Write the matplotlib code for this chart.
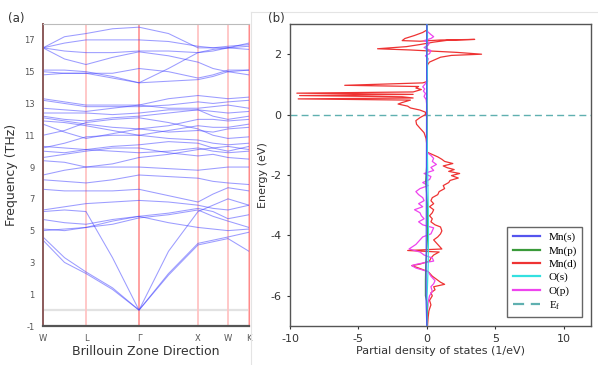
import matplotlib
matplotlib.use("Agg")
import matplotlib.pyplot as plt
from matplotlib.lines import Line2D

plt.rcParams["axes.unicode_minus"] = False

# ---------------- Panel (a): phonon dispersion ----------------
k_labels = ["W", "L", "Γ", "X", "W", "K"]
k_ticks = [0, 43, 96, 155, 185, 206]
# sample points along path: W, W-L, L, L-Γ, Γ, Γ-X, X, X-W, W, K
k_path = [0, 21.5, 43, 69.5, 96, 125.5, 155, 170, 185, 206]

bands = [
    [4.6, 3.3, 2.4, 1.4, 0.0, 2.3, 4.2, 4.4, 4.6, 4.9],
    [4.4, 3.0, 2.3, 1.3, 0.0, 2.2, 4.1, 4.3, 4.5, 3.7],
    [6.2, 6.3, 6.2, 3.3, 0.0, 3.7, 6.2, 6.6, 7.0, 6.6],
    [5.0, 5.1, 5.2, 5.6, 5.9, 5.5, 5.2, 5.1, 5.0, 5.1],
    [5.1, 5.0, 5.2, 5.4, 5.8, 6.0, 6.3, 5.9, 5.6, 5.2],
    [5.7, 5.5, 5.4, 5.7, 5.9, 6.1, 6.4, 6.2, 5.75, 6.0],
    [6.3, 6.5, 6.7, 6.8, 6.9, 6.8, 6.6, 6.4, 6.3, 6.6],
    [7.6, 7.5, 7.5, 7.5, 7.6, 7.2, 6.8, 7.3, 7.7, 7.5],
    [8.2, 8.1, 8.0, 8.2, 8.5, 8.4, 8.3, 8.1, 8.0, 7.9],
    [8.5, 8.8, 9.0, 9.0, 9.0, 8.9, 8.8, 8.9, 9.0, 9.0],
    [9.4, 9.3, 9.0, 9.2, 9.6, 9.8, 10.1, 10.2, 10.3, 10.1],
    [9.6, 9.8, 10.0, 10.2, 10.2, 9.9, 9.7, 9.8, 9.6, 9.5],
    [10.0, 9.9, 10.1, 10.0, 9.9, 10.0, 10.2, 10.0, 9.9, 10.0],
    [10.3, 10.2, 10.1, 10.3, 10.4, 10.6, 10.5, 10.2, 10.0, 10.3],
    [10.2, 10.5, 10.9, 11.0, 11.0, 10.8, 10.7, 10.5, 10.4, 10.5],
    [11.0, 11.3, 11.8, 12.0, 12.1, 11.8, 11.4, 11.0, 10.8, 10.9],
    [11.7, 11.2, 10.8, 11.1, 11.4, 11.2, 11.3, 11.2, 11.4, 11.5],
    [11.9, 11.8, 11.6, 11.3, 11.0, 11.3, 11.6, 11.5, 11.5, 11.7],
    [12.1, 11.9, 11.7, 11.5, 11.4, 11.6, 12.0, 12.0, 11.9, 12.0],
    [12.2, 12.0, 11.9, 12.1, 12.2, 12.4, 12.6, 12.2, 12.0, 12.2],
    [12.4, 12.4, 12.4, 12.3, 12.4, 12.6, 12.6, 12.5, 12.4, 12.5],
    [12.7, 12.6, 12.5, 12.7, 12.9, 12.7, 12.7, 12.8, 12.9, 12.7],
    [13.2, 13.0, 12.8, 12.8, 12.8, 12.9, 13.1, 13.0, 13.1, 13.2],
    [13.3, 13.1, 12.9, 12.9, 12.9, 13.3, 13.5, 13.4, 13.3, 13.4],
    [14.8, 14.9, 14.9, 14.6, 14.3, 15.2, 16.2, 16.4, 16.5, 16.6],
    [15.1, 15.1, 15.0, 14.7, 14.3, 14.4, 14.5, 14.7, 15.0, 14.8],
    [15.0, 14.9, 14.9, 14.9, 15.2, 15.0, 14.6, 14.8, 15.1, 15.1],
    [16.5, 15.8, 15.45, 15.9, 16.25, 16.0, 15.6, 15.2, 15.0, 15.1],
    [16.5, 16.3, 16.2, 16.2, 16.3, 16.3, 16.2, 16.3, 16.5, 16.8],
    [16.5, 16.8, 17.0, 17.0, 17.0, 16.9, 16.6, 16.5, 16.5, 16.4],
    [16.5, 17.2, 17.4, 17.7, 17.8, 17.4, 16.5, 16.5, 16.6, 16.7],
]
freq_ticks = [-1, 1, 3, 5, 7, 9, 11, 13, 15, 17]

# ---------------- Panel (b): partial DOS ----------------
mnd_E = [2.95, 2.80, 2.72, 2.62, 2.52, 2.45, 2.43, 2.47, 2.49, 2.46, 2.40, 2.32, 2.25, 2.18, 2.14,
         2.10, 2.06, 2.00, 1.96, 1.90, 1.82, 1.74, 1.65, 1.40, 1.10, 1.05, 0.97, 0.93, 0.88, 0.83,
         0.75, 0.71, 0.67, 0.63, 0.59, 0.55, 0.52, 0.48, 0.40, 0.35, 0.28, 0.22, 0.15, 0.08, 0.0,
         -0.10, -0.20, -0.32, -0.45, -0.60, -0.80, -1.0, -1.25, -1.32, -1.40, -1.48, -1.55, -1.62,
         -1.70, -1.76, -1.82, -1.88, -1.95, -2.02, -2.10, -2.18, -2.25, -2.35, -2.45, -2.55, -2.65,
         -2.75, -2.85, -2.95, -3.05, -3.15, -3.25, -3.35, -3.45, -3.55, -3.65, -3.72, -3.85, -3.95,
         -4.05, -4.15, -4.25, -4.35, -4.45, -4.50, -4.55, -4.65, -4.75, -4.85, -4.95, -5.00, -5.08,
         -5.2, -5.35, -5.45, -5.55, -5.62, -5.70, -5.80, -5.90, -6.0, -6.15, -6.3, -6.5, -6.7, -7.0]
mnd_dos = [0.0, 0.0, -0.3, -0.9, -1.6, -1.8, -0.5, 1.0, 3.5, 1.5, 0.5, -0.5, -1.5, -3.6, -1.2,
           0.5, 2.2, 4.0, 1.8, 1.0, 0.6, 0.2, 0.05, 0.0, 0.05, -0.3, -6.0, -0.6, -0.8, -0.4,
           -1.0, -9.5, -1.0, -9.3, -1.8, -1.0, -9.4, -1.2, -1.8, -2.1, -1.4, -1.2, -0.5, -0.1, -0.1,
           -0.5, -0.8, -0.75, -0.5, -0.2, -0.05, 0.0, 0.05, 0.4, 0.8, 1.1, 1.3, 1.9,
           1.2, 1.5, 2.0, 1.6, 2.4, 1.8, 2.3, 1.7, 1.6, 1.2, 1.3, 0.9, 0.8,
           0.4, 0.3, 0.5, 0.2, 0.5, 0.4, 0.2, 0.4, 0.3, 0.6, 1.0, 1.1, 1.0,
           0.8, 0.5, 0.7, 0.9, 1.1, -1.4, 0.9, 0.5, 0.3, 0.2, -0.5, -1.1, -0.6,
           0.1, 0.4, 0.7, 1.0, 1.3, 0.5, 0.6, 0.3, 0.4, 0.2, 0.3, 0.15, 0.1, 0.05]

op_E = [2.95, 2.75, 2.65, 2.58, 2.52, 2.45, 2.38, 2.30, 2.22, 2.12, 2.02, 1.95, 1.85, 1.7, 1.1,
        1.0, 0.92, 0.85, 0.78, 0.70, 0.60, 0.5, 0.3, -1.25, -1.35, -1.45, -1.55, -1.65, -1.75,
        -1.85, -1.95, -2.05, -2.15, -2.25, -2.35, -2.45, -2.55, -2.65, -2.75, -2.85, -2.95, -3.05,
        -3.15, -3.25, -3.35, -3.45, -3.55, -3.65, -3.75, -3.85, -3.95, -4.05, -4.15, -4.3, -4.45,
        -4.55, -4.65, -4.75, -4.85, -4.95, -5.0, -5.08, -5.2, -5.35, -5.5, -5.6, -5.7, -5.85, -6.0,
        -6.2, -6.5, -7.0]
op_dos = [0.0, 0.05, 0.3, 0.5, 0.3, -0.2, 0.2, 0.1, -0.2, 0.3, 0.2, -0.1, 0.1, 0.0, 0.0,
          -0.15, -0.3, -0.15, -0.25, -0.1, -0.2, -0.05, 0.0, 0.0, 0.3, 0.5, 0.4, 0.7, 0.3,
          0.5, -0.2, 0.3, 0.2, -0.3, 0.1, -0.5, -0.8, -0.6, -0.3, -0.2, -0.6, -0.3,
          -0.9, -0.5, -0.4, -0.2, -0.6, -0.3, 0.5, 0.4, 0.3, -0.3, -0.5, -0.8, -1.3,
          -0.5, -0.2, 0.4, 0.5, -0.7, -1.1, -0.8, 0.1, 0.3, 0.6, 0.5, 0.3, 0.4, 0.2,
          0.1, 0.05, 0.0]

mnp_E = [3.0, -1.5, -2.2, -3.0, -4.0, -5.0, -5.5, -6.0, -6.3, -7.0]
mnp_dos = [0.0, 0.02, -0.08, 0.05, 0.06, -0.08, -0.1, -0.1, 0.05, 0.0]
os_E = [3.0, 2.6, 2.2, 1.8, 0.0, -3.0, -4.0, -5.0, -6.0, -7.0]
os_dos = [0.0, 0.05, -0.05, 0.05, 0.0, 0.1, 0.12, 0.1, 0.02, 0.0]
mns_E = [3.0, -5.5, -6.2, -7.0]
mns_dos = [0.0, -0.05, -0.05, 0.0]

fig = plt.figure(figsize=(5.98, 3.65), dpi=100)

# ---- (a)
ax1 = fig.add_axes([43 / 598, 1 - 326 / 365, 206 / 598, 302 / 365])
ax1.axhline(0, color="#e2e2e2", lw=1.6, zorder=1)
for i, kt in enumerate(k_ticks[1:]):
    col = "#ff9a9a" if k_labels[i + 1] == "Γ" else "#ffc4c4"
    ax1.axvline(kt, color=col, lw=1.3, zorder=1)
for b in bands:
    ax1.plot(k_path, b, color="#3a3aff", alpha=0.5, lw=0.75, zorder=2)
ax1.set_xlim(k_ticks[0], k_ticks[-1])
ax1.set_ylim(-1, 18)
ax1.set_xticks(k_ticks)
ax1.set_xticklabels(k_labels, fontsize=6, color="#555555")
ax1.set_yticks(freq_ticks)
ax1.set_yticklabels([str(t) for t in freq_ticks], fontsize=6, color="#555555")
ax1.tick_params(length=0, pad=6)
ax1.spines["left"].set_color("#8b5a5a")
ax1.spines["left"].set_linewidth(1.4)
ax1.spines["bottom"].set_color("#555555")
ax1.spines["bottom"].set_linewidth(1.6)
ax1.spines["top"].set_color("#bbbbbb")
ax1.spines["right"].set_color("#ff8a8a")
ax1.set_ylabel("Frequency (THz)", fontsize=9, color="#333333", labelpad=4)
ax1.set_xlabel("Brillouin Zone Direction", fontsize=9, color="#333333", labelpad=1)

# ---- (b)
ax2 = fig.add_axes([290 / 598, 1 - 326 / 365, 301 / 598, 302 / 365])
ax2.plot(mnd_dos, mnd_E, color="#ee3333", lw=0.9, label="Mn(d)", zorder=3)
ax2.plot(op_dos, op_E, color="#ee44ee", lw=0.9, label="O(p)", zorder=4)
ax2.plot(mnp_dos, mnp_E, color="#3a9a3a", lw=0.9, label="Mn(p)", zorder=5)
ax2.plot(os_dos, os_E, color="#33e0e0", lw=0.9, label="O(s)", zorder=5)
ax2.plot(mns_dos, mns_E, color="#5555ee", lw=0.9, label="Mn(s)", zorder=5)
ax2.axhline(0, color="#5fb0b0", lw=1.0, ls=(0, (5, 3)), label="E$_\\mathregular{f}$", zorder=2)
ax2.set_xlim(-10, 12)
ax2.set_ylim(-7, 3)
ax2.set_xticks([-10, -5, 0, 5, 10])
ax2.set_yticks([2, 0, -2, -4, -6])
ax2.tick_params(labelsize=8, length=2.5, width=0.8, colors="#333333")
for s in ax2.spines.values():
    s.set_color("#555555")
    s.set_linewidth(1.0)
ax2.set_xlabel("Partial density of states (1/eV)", fontsize=8, color="#333333", labelpad=1)
ax2.set_ylabel("Energy (eV)", fontsize=8, color="#333333", labelpad=2)

handles, labels = ax2.get_legend_handles_labels()
order = ["Mn(s)", "Mn(p)", "Mn(d)", "O(s)", "O(p)", "E$_\\mathregular{f}$"]
hmap = dict(zip(labels, handles))
leg = ax2.legend([hmap[o] for o in order], order, loc="lower right",
                 prop={"family": "Liberation Serif", "size": 8},
                 handlelength=2.4, fancybox=False, framealpha=1,
                 edgecolor="#666666", borderpad=0.5, labelspacing=0.3,
                 bbox_to_anchor=(0.99, 0.01))
for lh in leg.get_lines():
    lh.set_linewidth(1.6)

# panel labels and faint frame of right panel
fig.text(8 / 598, 1 - 22 / 365, "(a)", fontsize=8.5, color="#333333")
fig.text(268 / 598, 1 - 22 / 365, "(b)", fontsize=8.5, color="#333333")
fig.add_artist(Line2D([251 / 598, 251 / 598], [0, 1 - 12 / 365], color="#e4e4e4", lw=0.8))
fig.add_artist(Line2D([251 / 598, 1], [1 - 12 / 365, 1 - 12 / 365], color="#e4e4e4", lw=0.8))

fig.savefig("out.png", dpi=100)
